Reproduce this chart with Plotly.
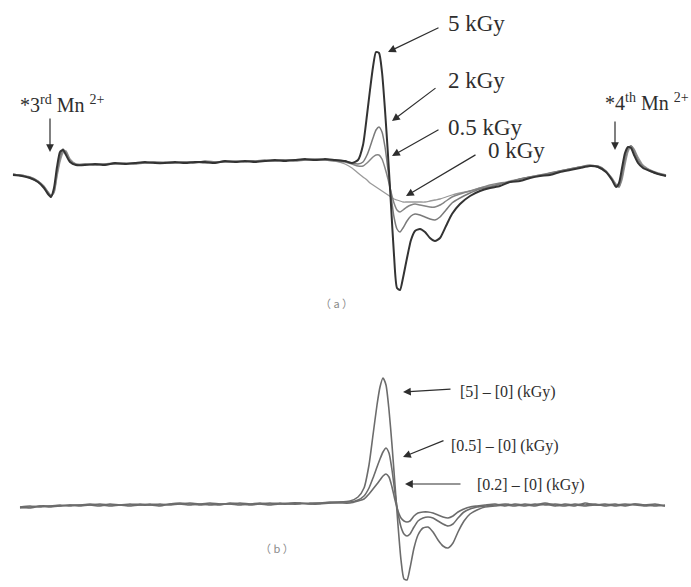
import plotly.graph_objects as go

# ---------------- panel (a): ESR spectra at different doses ----------------
# magnetic field positions (arbitrary units)
field_a = [13, 22, 30, 38, 44, 48, 51, 54, 57, 60, 63, 66, 70, 76, 85,
           95, 105, 115, 125, 135, 145, 155, 165, 175, 185, 195, 205, 215, 225,
           235, 245, 255, 265, 275, 285, 295, 305, 315, 325, 335,
           345, 352, 358, 363, 367, 370, 373, 376, 379, 382,
           385, 388, 391, 394, 397, 400, 403, 407, 411, 415,
           420, 425, 430, 435, 440, 446, 452, 460, 470, 480,
           490, 500, 510, 520, 530, 540, 550, 560, 570, 580,
           590, 598, 606, 612, 616, 619, 622, 625, 628, 631, 634, 638, 643, 650, 658, 666]

# first-derivative signal intensity (a.u.)
esr_5kgy = [-10, -11, -13, -17, -23, -29, -32, -23, -2, 13, 15, 10, 3, 0, 0,
            1, 0, 2, 1, 2, 3, 2, 2, 3, 2, 3, 3, 2, 4, 3, 4, 3, 4, 5, 4, 5, 6, 5, 6, 5,
            4, 2, 5, 20, 50, 75, 98, 113, 112, 93,
            55, 10, -40, -90, -123, -125, -113, -93, -75, -66,
            -64, -67, -73, -76, -73, -61, -49, -39, -31, -26,
            -23, -21, -17, -16, -13, -11, -10, -7, -5, -3,
            -1, -2, -7, -15, -22, -18, -3, 12, 18, 17, 10, 2, -3, -6, -9, -11]
esr_2kgy = [-9, -11, -12, -16, -22, -28, -31, -25, -6, 9, 16, 12, 4, 0, 1,
            0, 1, 1, 2, 1, 2, 3, 2, 2, 3, 2, 4, 3, 3, 4, 3, 4, 5, 4, 5, 5, 5, 6, 5, 5,
            4, 2, 1, 3, 10, 18, 27, 35, 38, 33,
            18, -5, -30, -52, -64, -67, -63, -56, -51, -49,
            -50, -52, -54, -55, -52, -45, -38, -33, -28, -24,
            -22, -19, -17, -14, -12, -11, -8, -6, -4, -2,
            -1, -1, -6, -14, -21, -21, -8, 8, 17, 19, 13, 4, -2, -6, -9, -10]
esr_05kgy = [-10, -10, -13, -17, -22, -27, -31, -27, -9, 6, 14, 13, 5, 1, 0,
             1, 1, 2, 1, 2, 2, 2, 3, 2, 3, 3, 2, 3, 3, 3, 4, 4, 4, 4, 5, 4, 5, 5, 5, 4,
             3, 1, -1, -1, 2, 5, 8, 10, 10, 6,
             -3, -14, -27, -38, -45, -47, -45, -42, -40, -39,
             -40, -41, -42, -42, -40, -36, -32, -29, -26, -23,
             -20, -18, -17, -14, -12, -10, -9, -6, -4, -2,
             0, -2, -7, -14, -20, -22, -12, 4, 15, 19, 15, 6, -1, -5, -8, -10]
esr_0kgy = [-9, -11, -12, -16, -21, -27, -30, -28, -12, 3, 12, 14, 6, 1, 1,
            0, 1, 1, 1, 2, 2, 3, 2, 3, 2, 3, 3, 3, 4, 3, 4, 4, 4, 5, 5, 5, 5, 5, 5, 4,
            1, -3, -8, -12, -15, -18, -20, -22, -24, -26,
            -28, -30, -32, -34, -35, -36, -37, -37, -37, -37,
            -37, -37, -36, -35, -34, -32, -30, -28, -26, -23,
            -21, -19, -16, -14, -12, -10, -8, -6, -4, -2,
            -1, -1, -6, -13, -19, -22, -15, 0, 13, 19, 16, 8, 0, -5, -9, -11]

# ---------------- panel (b): difference spectra ----------------
field_b = [20, 30, 40, 50, 60, 70, 80, 90, 100, 110, 120, 130, 140, 150, 160, 170,
           180, 190, 200, 210, 220, 230, 240, 250, 260, 270, 280, 290, 300, 310,
           320, 330, 340,
           350, 358, 364, 369, 373, 377, 380, 383, 386, 389,
           392, 395, 398, 401, 404, 407, 410, 414, 418, 423,
           428, 433, 438, 443, 448, 453, 458, 464, 470, 477,
           485, 495,
           505, 515, 525, 535, 545, 555, 565, 575, 585, 595, 605, 615, 625, 635,
           645, 655, 665]

diff_5 = [-2, -1, -2, -1, 0, -1, 0, 1, 0, -1, 0, 0, 1, 0, -1, 1, 2, 1, 0, 1,
          0, 2, 1, 0, 1, 2, 1, 1, 2, 1, 2, 3, 3,
          4, 8, 17, 40, 70, 100, 118, 127, 120, 95,
          60, 20, -20, -55, -74, -75, -63, -43, -30, -23,
          -22, -27, -35, -41, -43, -38, -27, -16, -9, -5,
          -2, -1,
          0, -1, 1, 0, 2, 0, -1, 1, 0, 1, -1, 0, 1, 0, -1, 0, -1]
diff_05 = [-3, -2, -1, -2, -1, 0, -1, 0, 1, 0, 0, -1, 0, 1, 0, 1, 1, 0, 1, 2,
           1, 1, 0, 1, 2, 1, 2, 1, 1, 2, 2, 2, 3,
           3, 5, 9, 17, 27, 38, 46, 53, 57, 52,
           35, 12, -8, -22, -29, -31, -29, -22, -16, -13,
           -12, -13, -16, -19, -21, -19, -13, -7, -4, -2,
           -1, 0,
           1, 0, -1, 1, 0, 1, 0, -1, 2, 0, 0, 1, -1, 1, 0, -1, 0]
diff_02 = [-2, -3, -1, -1, -1, 0, 0, 0, -1, 1, 0, 1, 0, 0, 1, 0, 1, 2, 1, 0,
           1, 1, 2, 1, 1, 0, 1, 2, 2, 1, 1, 2, 2,
           2, 4, 6, 11, 16, 21, 25, 29, 31, 28,
           18, 5, -6, -13, -16, -17, -16, -11, -8, -7,
           -7, -8, -10, -12, -13, -11, -7, -4, -2, -1,
           0, 1,
           -1, 1, 0, -1, 1, -1, 1, 0, -1, 0, 1, -1, 0, 1, 0, 1, -1]

labels_a = ["0 kGy", "0.5 kGy", "2 kGy", "5 kGy"]
labels_b = ["[0.2] – [0] (kGy)", "[0.5] – [0] (kGy)", "[5] – [0] (kGy)"]

fig = go.Figure()

styles_a = [("#9a9a9a", 1.3), ("#858585", 1.5), ("#7a7a7a", 1.5), ("#333333", 2.0)]
for name, ys, (col, w) in zip(labels_a, [esr_0kgy, esr_05kgy, esr_2kgy, esr_5kgy], styles_a):
    fig.add_trace(go.Scatter(x=field_a, y=ys, mode="lines", name=name,
                             line=dict(color=col, width=w, shape="spline", smoothing=0.6),
                             yaxis="y"))

for name, ys in zip(labels_b, [diff_02, diff_05, diff_5]):
    fig.add_trace(go.Scatter(x=field_b, y=ys, mode="lines", name=name,
                             line=dict(color="#6c6c6c", width=1.6, shape="spline", smoothing=0.6),
                             yaxis="y2"))

serif = "Liberation Serif, Times New Roman, serif"
ink = "#2e2e2e"


def arrow(x, y, ax, ay, yref="y"):
    return dict(x=x, y=y, ax=ax, ay=ay, xref="x", yref=yref, axref="x", ayref=yref,
                text="", showarrow=True, arrowhead=2, arrowsize=1.3, arrowwidth=1.2,
                arrowcolor=ink, standoff=0)


def label(x, y, text, size, yref="y", xanchor="left", color=ink, family=serif):
    return dict(x=x, y=y, xref="x", yref=yref, text=text, showarrow=False,
                xanchor=xanchor, yanchor="middle",
                font=dict(family=family, size=size, color=color))


annotations = [
    # panel (a)
    arrow(388, 113, 440, 138), label(446, 142, "5 kGy", 23),
    arrow(392, 44, 437, 78), label(446, 85, "2 kGy", 23),
    arrow(392, 9, 440, 36), label(446, 38, "0.5 kGy", 23),
    arrow(406, -31, 477, 11), label(486, 15, "0 kGy", 23),
    arrow(50, 13, 50, 48), label(18, 61, "*3<sup>rd</sup> Mn <sup>2+</sup>", 20),
    arrow(615, 15, 615, 45), label(603, 63, "*4<sup>th</sup> Mn <sup>2+</sup>", 20),
    label(336, -138, "（ a ）", 11, xanchor="center", color="#8a8a8a",
          family="Noto Sans CJK SC"),
    # panel (b)
    arrow(403, 113, 452, 116, "y2"), label(458, 113, labels_b[2], 16, "y2"),
    arrow(403, 48, 445, 65, "y2"), label(449, 59, labels_b[1], 16, "y2"),
    arrow(405, 21, 462, 21, "y2"), label(475, 20, labels_b[0], 16, "y2"),
    label(277, -43, "（ b ）", 11, "y2", xanchor="center", color="#8a8a8a",
          family="Noto Sans CJK SC"),
]

fig.update_layout(
    width=691, height=587,
    margin=dict(l=0, r=0, t=0, b=0),
    paper_bgcolor="white", plot_bgcolor="white",
    showlegend=False,
    xaxis=dict(range=[0, 691], visible=False, domain=[0, 1]),
    yaxis=dict(range=[-422, 165], visible=False, domain=[0, 1]),
    yaxis2=dict(range=[-82, 505], visible=False, overlaying="y"),
    annotations=annotations,
)

fig.write_html("out.html")
